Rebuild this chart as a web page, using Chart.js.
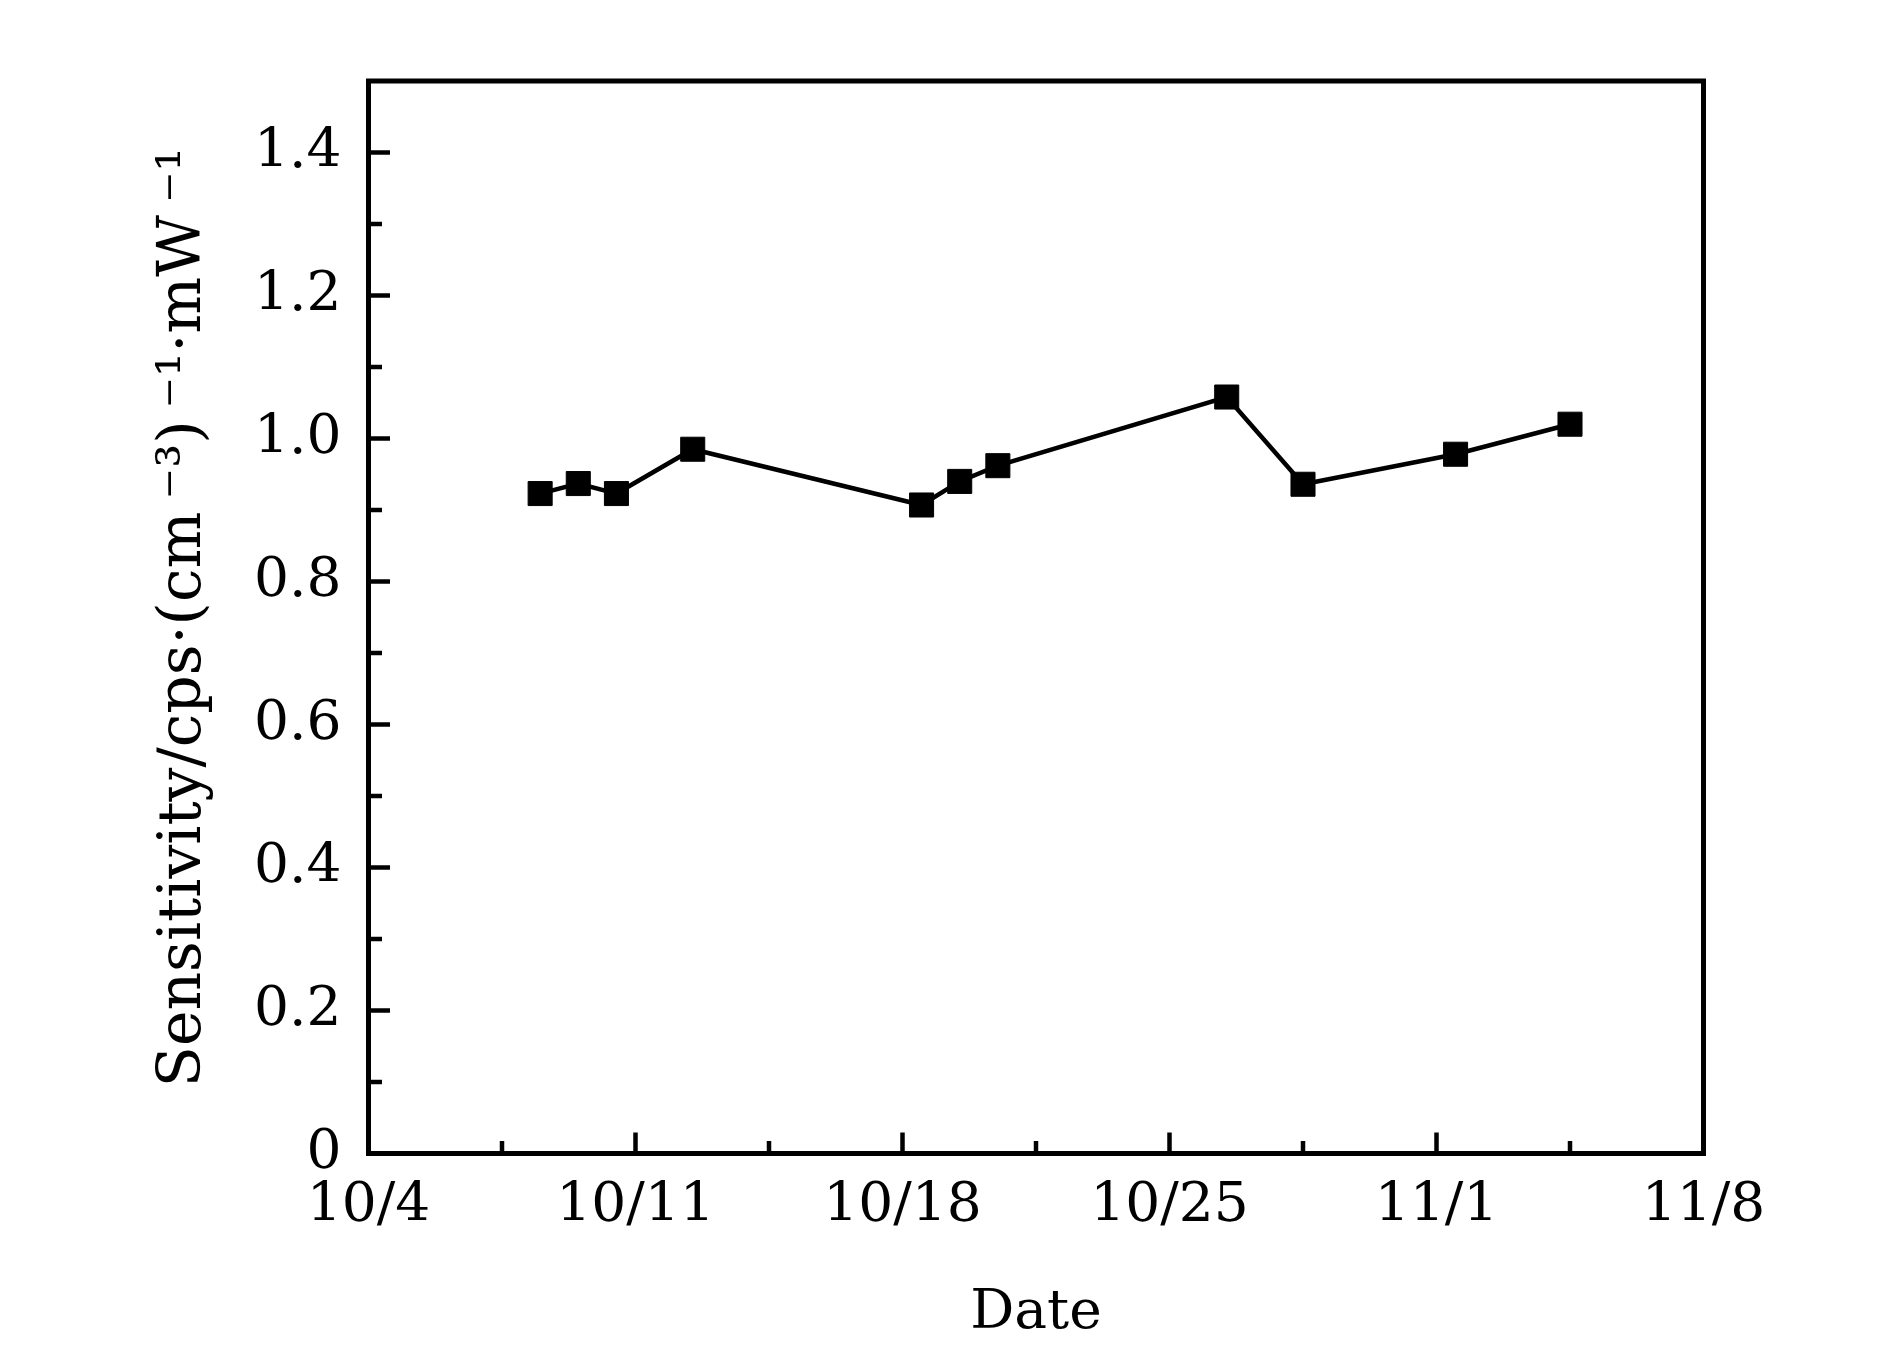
<!DOCTYPE html>
<html>
<head>
<meta charset="utf-8">
<script src="https://cdn.jsdelivr.net/npm/chart.js@4"></script>
<style>
  html, body { margin: 0; padding: 0; background: #ffffff; }
  #wrap { width: 1890px; height: 1347px; }
</style>
</head>
<body>
<div id="wrap"><canvas id="c" width="1890" height="1347"></canvas></div>
<script>
// ---- data ----
const originDate = '10/4';
const sampleDates = ['10/8 12', '10/9 12', '10/10 12', '10/12 12', '10/18 12', '10/19 12',
                     '10/20 12', '10/26 12', '10/28 12', '11/1 12', '11/4 12'];
const sensitivity = [0.923, 0.937, 0.923, 0.985, 0.907, 0.940, 0.962, 1.058, 0.936, 0.978, 1.020];
const xTickLabels = ['10/4', '10/11', '10/18', '10/25', '11/1', '11/8'];
const yTickLabels = ['0', '0.2', '0.4', '0.6', '0.8', '1.0', '1.2', '1.4'];
const xTitle = 'Date';
const yTitle = 'Sensitivity/cps\u00B7(cm\u2009\u207B\u00B3)\u2009\u207B\u00B9\u00B7mW\u2009\u207B\u00B9';

// convert "m/d h" to days after the origin date
function toMs(s) {
  const [md, h] = s.split(' ');
  const [m, d] = md.split('/').map(Number);
  return Date.UTC(2014, m - 1, d, h ? Number(h) : 0);
}
const dayOffsets = sampleDates.map(s => (toMs(s) - toMs(originDate)) / 86400000);
const points = dayOffsets.map((x, i) => ({ x: x, y: sensitivity[i] }));

const FONT = 'DejaVu Serif';
const near = (a, b) => Math.abs(a - b) < 1e-6;

const framePlugin = {
  id: 'frame',
  beforeDatasetsDraw(chart) {
    const { ctx, chartArea: a, scales } = chart;
    ctx.save();
    ctx.strokeStyle = '#000';
    ctx.lineCap = 'butt';
    ctx.lineWidth = 4.5;
    const xs = scales.x;
    xs.ticks.forEach((t) => {
      if (near(t.value, xs.min) || near(t.value, xs.max)) return;
      const px = xs.getPixelForValue(t.value);
      const major = t.label !== '';
      ctx.beginPath();
      ctx.moveTo(px, a.bottom);
      ctx.lineTo(px, a.bottom - (major ? 21 : 12.5));
      ctx.stroke();
    });
    const ys = scales.y;
    ys.ticks.forEach((t) => {
      if (near(t.value, ys.min) || near(t.value, ys.max)) return;
      const py = ys.getPixelForValue(t.value);
      const major = t.label !== '';
      ctx.beginPath();
      ctx.moveTo(a.left, py);
      ctx.lineTo(a.left + (major ? 21.5 : 13.5), py);
      ctx.stroke();
    });
    ctx.lineWidth = 5;
    ctx.lineJoin = 'miter';
    ctx.strokeRect(a.left, a.top, a.right - a.left, a.bottom - a.top);
    ctx.restore();
  }
};

new Chart(document.getElementById('c'), {
  type: 'line',
  data: {
    datasets: [{
      data: points,
      borderColor: '#000',
      backgroundColor: '#000',
      borderWidth: 4.5,
      pointStyle: 'rect',
      pointRadius: 17,
      pointBorderWidth: 1,
      pointBackgroundColor: '#000',
      pointBorderColor: '#000',
      tension: 0,
      fill: false
    }]
  },
  options: {
    responsive: false,
    animation: false,
    devicePixelRatio: 1,
    layout: { padding: { top: 81, right: 186.5, left: 0, bottom: 0 } },
    plugins: { legend: { display: false }, tooltip: { enabled: false } },
    scales: {
      x: {
        type: 'linear',
        min: 0, max: 35,
        grid: { display: false, drawTicks: false },
        border: { display: false },
        ticks: {
          stepSize: 3.5,
          autoSkip: false,
          maxRotation: 0,
          padding: 20,
          color: '#000',
          font: { family: FONT, size: 55 },
          callback: (v) => {
            const i = Math.round(v / 7);
            return near(v, 7 * i) && i < xTickLabels.length ? xTickLabels[i] : '';
          }
        },
        title: {
          display: true, text: xTitle, color: '#000',
          font: { family: FONT, size: 55 },
          padding: { top: 0, bottom: 0 }
        },
        afterFit: (s) => { s.height = 193.5; }
      },
      y: {
        type: 'linear',
        min: 0, max: 1.5,
        grid: { display: false, drawTicks: false },
        border: { display: false },
        ticks: {
          stepSize: 0.1,
          autoSkip: false,
          padding: 27,
          color: '#000',
          font: { family: FONT, size: 55 },
          callback: (v) => {
            const i = Math.round(v / 0.2);
            return near(v, 0.2 * i) && i < yTickLabels.length ? yTickLabels[i] : '';
          }
        },
        title: {
          display: true, text: yTitle, color: '#000',
          font: { family: FONT, size: 60 },
          padding: { top: 148, bottom: 0 }
        },
        afterFit: (s) => { s.width = 368.5; }
      }
    }
  },
  plugins: [framePlugin]
});
</script>
</body>
</html>
